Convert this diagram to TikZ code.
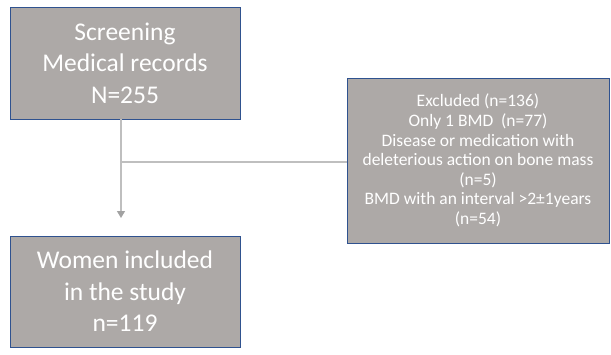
\documentclass[tikz,border=0pt]{standalone}
\usepackage{fontspec}
\setmainfont{Carlito}
\usetikzlibrary{arrows.meta}
\definecolor{boxfill}{HTML}{ADA9A7}
\definecolor{boxedge}{HTML}{2F528F}
\definecolor{linegray}{HTML}{BFBFBF}
\begin{document}
\begin{tikzpicture}[x=1pt,y=-1pt,
 box/.style={draw=boxedge, fill=boxfill, line width=0.8pt, text=white, align=center, inner sep=0pt, anchor=center},
 big/.style={font=\fontsize{25.5}{31.5}\selectfont},
 small/.style={font=\fontsize{17.5}{19.6}\selectfont},
 conn/.style={draw=linegray, line width=1.3pt}]
\useasboundingbox (0,0) rectangle (611,354);
\node[box,big,minimum width=230pt,minimum height=112pt] (screen) at (125,63) {Screening\\Medical records\\N=255};
\node[box,big,minimum width=230pt,minimum height=111pt] (women) at (125,291.5) {Women included\\in the study\\n=119};
\node[box,small,minimum width=262pt,minimum height=165pt] (excl) at (478,160.5) {Excluded (n=136)\\Only 1 BMD~~(n=77)\\Disease or medication with\\deleterious action on bone mass\\(n=5)\\BMD with an interval >2±1years\\(n=54)};
\coordinate (split) at (121,162);
\coordinate (tip) at (121,218);
\draw[conn] (split) -- (excl.west |- split);
\draw[conn,-{Triangle[width=8pt,length=7pt,fill=linegray!85!black,color=linegray!85!black]}] (screen.south -| tip) -- (tip);
\end{tikzpicture}
\end{document}
